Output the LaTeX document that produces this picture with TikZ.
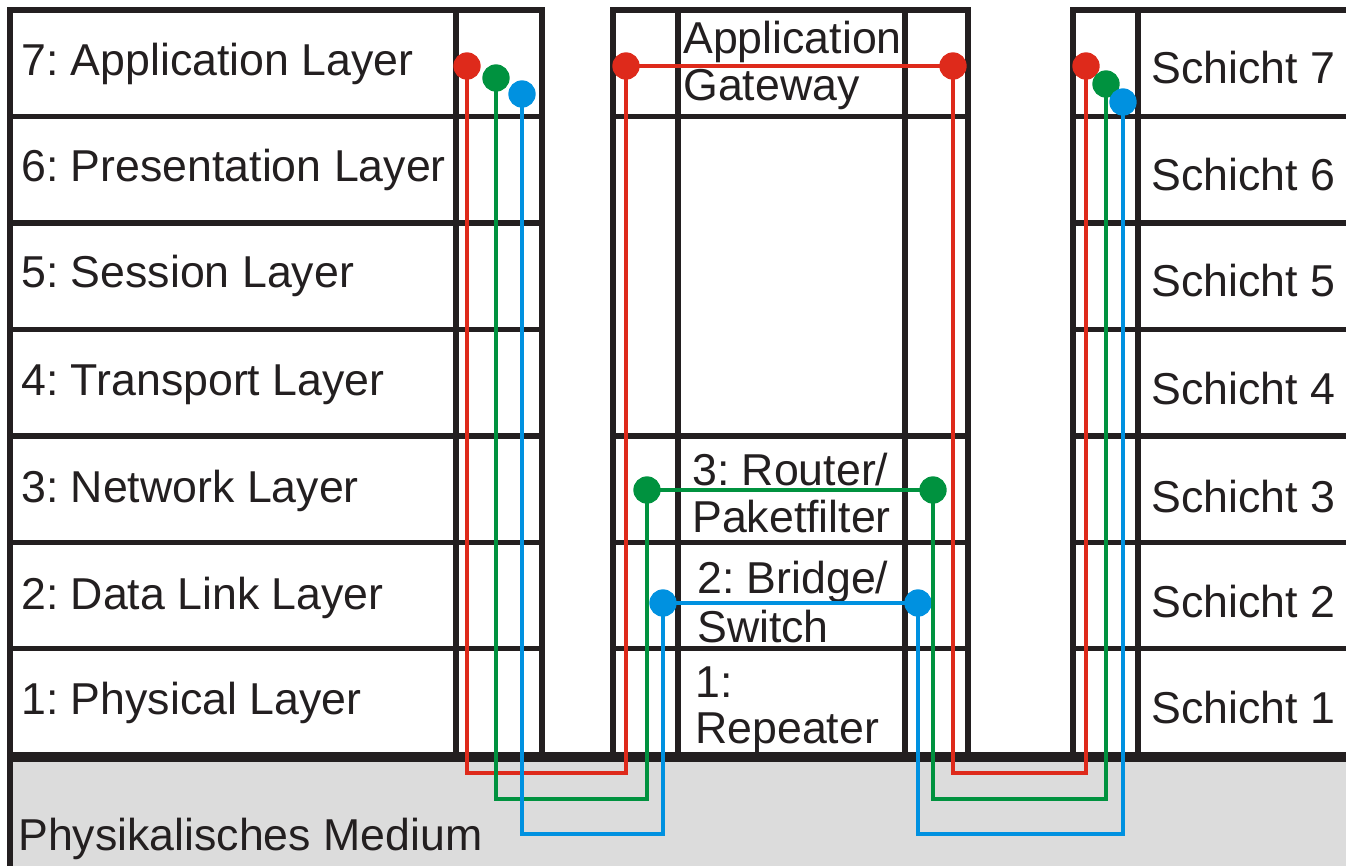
\documentclass[tikz,border=0pt]{standalone}
\usepackage{fontspec}
\setmainfont{Liberation Sans}
\frenchspacing
\definecolor{ink}{HTML}{231F20}
\definecolor{medgray}{HTML}{DCDCDC}
\definecolor{lred}{HTML}{DE2A1B}
\definecolor{lgreen}{HTML}{00923F}
\definecolor{lblue}{HTML}{0091E0}
\begin{document}
\begin{tikzpicture}[x=0.75pt,y=-0.75pt,
  grid/.style={draw=ink,line width=3.9pt,line cap=rect,line join=miter},
  base/.style={draw=ink,line width=7.5pt,line cap=butt},
  lbl/.style={anchor=base west,inner sep=0pt,text=ink,font=\fontsize{33.5}{40}\selectfont\frenchspacing},
  conn/.style={line width=3.7pt,line join=miter,line cap=butt},
  dot/.style={circle,inner sep=0pt,minimum size=20.5pt}
]
\useasboundingbox (0,0) rectangle (1346,866);
% physical medium
\fill[medgray] (10,757) rectangle (1346,866);
\draw[grid] (10,757) -- (10,866);
% left stack
\draw[grid] (10,10) rectangle (542,755);
\draw[grid] (456,10) -- (456,755);
\foreach \y in {116.5,223,329.5,436,542.5,648.5}
  \draw[grid] (10,\y) -- (542,\y);
% middle stack
\draw[grid] (613,10) rectangle (968,755);
\draw[grid] (678,10) -- (678,755);
\draw[grid] (905,10) -- (905,755);
\foreach \y in {116.5,436,542.5,648.5}
  \draw[grid] (613,\y) -- (968,\y);
% right stack
\draw[grid] (1350,10) -- (1073,10) -- (1073,755);
\draw[grid] (1138,10) -- (1138,755);
\foreach \y in {116.5,223,329.5,436,542.5,648.5}
  \draw[grid] (1073,\y) -- (1350,\y);
% base line
\draw[base] (10,757) -- (1346,757);

% labels left
\node[lbl] (l7) at (21,76) {7: Application Layer};
\node[lbl] (l6) at (21,182) {6: Presentation Layer};
\node[lbl] (l5) at (21,288) {5: Session Layer};
\node[lbl] (l4) at (21,395) {4: Transport Layer};
\node[lbl] (l3) at (21,502) {3: Network Layer};
\node[lbl] (l2) at (21,609) {2: Data Link Layer};
\node[lbl] (l1) at (21,714) {1: Physical Layer};
% labels right
\node[lbl] (s7) at (1151,84) {Schicht 7};
\node[lbl] (s6) at (1151,191) {Schicht 6};
\node[lbl] (s5) at (1151,297) {Schicht 5};
\node[lbl] (s4) at (1151,404) {Schicht 4};
\node[lbl] (s3) at (1151,512) {Schicht 3};
\node[lbl] (s2) at (1151,617) {Schicht 2};
\node[lbl] (s1) at (1151,723) {Schicht 1};
% middle labels
\node[lbl] (m7a) at (683,54) {Application};
\node[lbl] (m7b) at (683,101) {Gateway};
\node[lbl] (m3a) at (692,485) {3: Router/};
\node[lbl] (m3b) at (692,532) {Paketfilter};
\node[lbl] (m2a) at (697,593) {2: Bridge/};
\node[lbl] (m2b) at (697,642) {Switch};
\node[lbl] (m1a) at (695,697) {1:};
\node[lbl] (m1b) at (695,743) {Repeater};
\node[lbl] (med) at (18,850) {Physikalisches Medium};

% connection endpoints
\node[dot,fill=lred] (rA) at (467,66) {};
\node[dot,fill=lred] (rB) at (626,66) {};
\node[dot,fill=lred] (rC) at (953,66) {};
\node[dot,fill=lred] (rD) at (1086,66) {};
\node[dot,fill=lgreen] (gA) at (496,78) {};
\node[dot,fill=lgreen] (gB) at (647,490) {};
\node[dot,fill=lgreen] (gC) at (933,490) {};
\node[dot,fill=lgreen] (gD) at (1106,84) {};
\node[dot,fill=lblue] (bA) at (522,94) {};
\node[dot,fill=lblue] (bB) at (663,603) {};
\node[dot,fill=lblue] (bC) at (918,603) {};
\node[dot,fill=lblue] (bD) at (1123,102) {};
\coordinate (rlow) at (0,773);
\coordinate (glow) at (0,799);
\coordinate (blow) at (0,834);

\draw[conn,lred] (rA.center) -- (rA.center |- rlow) -| (rB.center) -- (rC.center) -- (rC.center |- rlow) -| (rD.center);
\draw[conn,lgreen] (gA.center) -- (gA.center |- glow) -| (gB.center) -- (gC.center) -- (gC.center |- glow) -| (gD.center);
\draw[conn,lblue] (bA.center) -- (bA.center |- blow) -| (bB.center) -- (bC.center) -- (bC.center |- blow) -| (bD.center);
\end{tikzpicture}
\end{document}
